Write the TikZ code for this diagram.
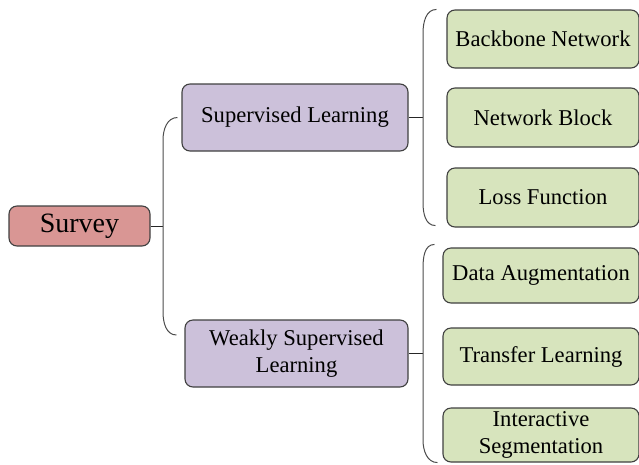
\documentclass[tikz,border=0pt]{standalone}
\usepackage{fontspec}
\setmainfont{Liberation Serif}
\definecolor{rootred}{HTML}{D99694}
\definecolor{midlilac}{HTML}{CCC1DA}
\definecolor{leafgreen}{HTML}{D7E4BD}
\definecolor{boxline}{HTML}{404040}
\begin{document}
\begin{tikzpicture}[x=1pt, y=-1pt, line width=1.1pt,
    box/.style={draw=boxline, rounded corners=8pt, inner sep=0pt, align=center,
      font=\fontsize{22.6}{27}\selectfont},
    link/.style={draw=black!85, line width=1pt},
    bracket/.style={draw=black!70, line width=1pt}]
  \useasboundingbox (0,0) rectangle (639,464);

  % 根节点
  \node[box, fill=rootred, minimum width=141pt, minimum height=40pt,
    font=\fontsize{28}{32}\selectfont] (survey) at (79.5,226) {Survey};

  % 第二层节点
  \node[box, fill=midlilac, minimum width=226pt, minimum height=67pt] (sup) at (295,117.5) {Supervised Learning};
  \node[box, fill=midlilac, minimum width=223pt, minimum height=67pt] (weak) at (296.5,353.5) {Weakly Supervised\\Learning};

  % 第三层节点（上）
  \node[box, fill=leafgreen, minimum width=192pt, minimum height=58pt] (backbone) at (543,39) {Backbone Network};
  \node[box, fill=leafgreen, minimum width=192pt, minimum height=59pt] (block) at (543,117.5) {Network Block};
  \node[box, fill=leafgreen, minimum width=192pt, minimum height=59pt] (loss) at (543,197.5) {Loss Function};

  % 第三层节点（下）
  \node[box, fill=leafgreen, minimum width=196pt, minimum height=55pt] (aug) at (541,275.5) {Data Augmentation};
  \node[box, fill=leafgreen, minimum width=196pt, minimum height=57pt] (transfer) at (541,356.5) {Transfer Learning};
  \node[box, fill=leafgreen, minimum width=196pt, minimum height=54pt] (inter) at (541,435) {Interactive\\Segmentation};

  % 括号的端点
  \coordinate (jroot) at (163,226);
  \coordinate (jsup) at (423,117.5);
  \coordinate (jweak) at (423,353.5);

  % 根节点到第二层
  \draw[link] (survey.east) -- (jroot);
  \draw[bracket] ([xshift=-4pt]sup.west) to[out=180,in=90] (163,140) -- (163,312)
    to[out=-90,in=180] ([xshift=-8pt,yshift=18.5pt]weak.west);

  % 第二层到第三层
  \draw[link] (sup.east) -- (jsup);
  \draw[bracket] ([xshift=-10pt]backbone.north west) to[out=180,in=90] (423,33) -- (423,203)
    to[out=-90,in=180] ([xshift=-11pt,yshift=2pt]loss.south west);
  \draw[link] (weak.east) -- (jweak);
  \draw[bracket] ([xshift=-8pt,yshift=3pt]aug.north west) to[out=180,in=90] (423,268) -- (423,440)
    to[out=-90,in=180] ([xshift=-5pt]inter.south west);
\end{tikzpicture}
\end{document}
